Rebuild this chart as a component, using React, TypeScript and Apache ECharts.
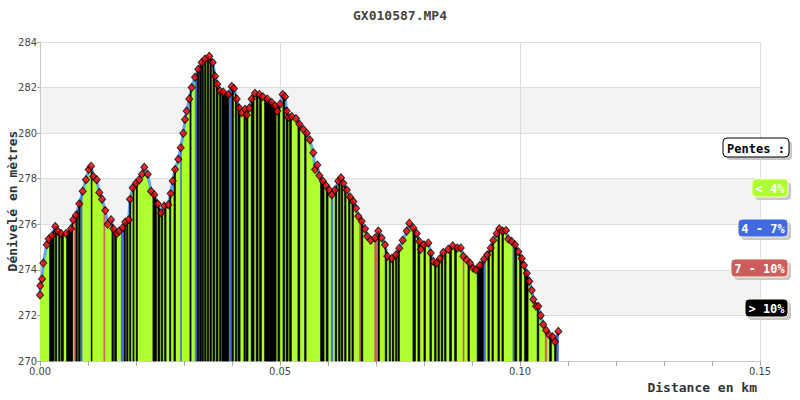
import React, { useEffect, useRef } from "react";
import * as echarts from "echarts";

// Distance (km) and elevation (m) of the track profile
const distances = [
  0, 0.00006, 0.00042, 0.00069, 0.0014, 0.00181, 0.0025, 0.00319, 0.00369, 0.00438,
  0.00542, 0.00646, 0.00694, 0.0075, 0.00819, 0.0089, 0.00958, 0.01015, 0.01063, 0.0111,
  0.01181, 0.01235, 0.01292, 0.0136, 0.0141, 0.01479, 0.01527, 0.01598, 0.01652, 0.01723,
  0.01777, 0.01848, 0.01875, 0.01931, 0.02, 0.02069, 0.02125, 0.02173, 0.02244, 0.02313,
  0.02381, 0.02452, 0.02521, 0.0259, 0.02673, 0.02723, 0.02765, 0.02813, 0.02881, 0.02931,
  0.02985, 0.03021, 0.03056, 0.0311, 0.0316, 0.03229, 0.03298, 0.03369, 0.03438, 0.03527,
  0.03598, 0.03646, 0.03694, 0.0375, 0.03819, 0.03923, 0.03994, 0.04042, 0.04098, 0.04152,
  0.04202, 0.04271, 0.04306, 0.0436, 0.0441, 0.04479, 0.04569, 0.0464, 0.04735, 0.04827,
  0.04896, 0.04944, 0.05, 0.05056, 0.05104, 0.0514, 0.05173, 0.05244, 0.05333, 0.05402,
  0.05485, 0.05556, 0.05625, 0.05694, 0.05729, 0.05777, 0.05819, 0.0589, 0.05958, 0.06027,
  0.06077, 0.06146, 0.06215, 0.06271, 0.06319, 0.0639, 0.06458, 0.06527, 0.06583, 0.06631,
  0.06702, 0.06771, 0.06819, 0.0689, 0.06979, 0.07048, 0.07119, 0.07188, 0.07235, 0.07327,
  0.07417, 0.07485, 0.07556, 0.0764, 0.07694, 0.07777, 0.07848, 0.07902, 0.07931, 0.08,
  0.0809, 0.0814, 0.08194, 0.08265, 0.08333, 0.08402, 0.08506, 0.08598, 0.08694, 0.08765,
  0.08819, 0.0889, 0.08958, 0.09027, 0.09083, 0.09167, 0.0925, 0.09319, 0.0939, 0.09444,
  0.09515, 0.09569, 0.0964, 0.09708, 0.09756, 0.09827, 0.09896, 0.09965, 0.10035, 0.10083,
  0.1014, 0.10194, 0.10244, 0.10277, 0.10333, 0.10381, 0.10431, 0.10485, 0.10542, 0.1061,
  0.10681, 0.10729, 0.10798,
];

const elevations = [
  272.9, 273.3, 273.6, 274.3, 275.1, 275.35, 275.5, 275.9, 275.7, 275.6,
  275.6, 275.8, 276.2, 276.4, 276.9, 277.45, 277.96, 278.4, 278.55, 278.1,
  277.96, 277.4, 277.1, 276.6, 276.0, 276.2, 275.8, 275.6, 275.7, 275.85,
  276.1, 276.2, 277.1, 277.6, 277.8, 277.96, 278.2, 278.5, 278.2, 277.45,
  277.3, 276.9, 276.5, 276.8, 276.86, 277.35, 277.9, 278.4, 278.85, 279.36,
  280.0, 280.6, 280.97, 281.5, 282.0, 282.45, 282.8, 283.1, 283.25, 283.37,
  283.1, 282.5, 282.15, 281.85, 281.8, 281.7, 282.05, 281.96, 281.5, 281.1,
  280.9, 281.05, 280.8, 281.1, 281.5, 281.75, 281.7, 281.6, 281.5, 281.35,
  281.2, 280.97, 281.27, 281.7, 281.6, 280.97, 280.7, 280.73, 280.64, 280.4,
  280.17, 280.0, 279.7, 279.14, 278.4, 278.6, 278.14, 277.9, 277.7, 277.5,
  277.3, 277.5, 277.9, 278.04, 277.8, 277.5, 277.2, 277.0, 276.7, 276.35,
  276.13, 275.8, 275.47, 275.3, 275.4, 275.7, 275.4, 275.1, 274.6, 274.5,
  274.66, 274.95, 275.3, 275.7, 276.05, 275.84, 275.6, 275.25, 274.9, 275.1,
  275.18, 274.74, 274.37, 274.3, 274.5, 274.76, 274.9, 275.06, 274.96, 274.96,
  274.6, 274.44, 274.3, 274.07, 274.0, 274.2, 274.47, 274.66, 274.96, 275.3,
  275.6, 275.8, 275.7, 275.73, 275.35, 275.25, 275.1, 274.8, 274.5, 274.2,
  273.85, 273.5, 273.1, 272.7, 272.4, 272.4, 272.0, 271.6, 271.35, 271.14,
  271.06, 270.84, 271.3,
];

// Slope bands: [start km, end km]
const slopeOver10 = [
  [0.00202, 0.00292], [0.00319, 0.00348], [0.0039, 0.00417], [0.00444, 0.00485], [0.00556, 0.00681],
  [0.0075, 0.00777], [0.00806, 0.00833], [0.01069, 0.01083], [0.015, 0.01527], [0.01556, 0.0159],
  [0.0175, 0.01777], [0.01806, 0.01833], [0.01869, 0.0189], [0.01938, 0.01958], [0.02006, 0.02027],
  [0.02354, 0.02423], [0.02458, 0.02494], [0.02527, 0.02556], [0.02598, 0.02625], [0.02702, 0.02723],
  [0.02792, 0.02819], [0.03125, 0.03146], [0.03277, 0.03306], [0.03327, 0.0336], [0.03375, 0.03402],
  [0.03431, 0.03458], [0.03485, 0.03515], [0.03542, 0.03569], [0.03604, 0.0364], [0.03673, 0.03708],
  [0.03744, 0.03771], [0.03792, 0.03931], [0.04, 0.04027], [0.04069, 0.04098], [0.04125, 0.04167],
  [0.0425, 0.04277], [0.04298, 0.04333], [0.04402, 0.04458], [0.04506, 0.04542], [0.04577, 0.0461],
  [0.04681, 0.04917], [0.04958, 0.04994], [0.05063, 0.05098], [0.05131, 0.05167], [0.05202, 0.05235],
  [0.05375, 0.0541], [0.05515, 0.05542], [0.05848, 0.05917], [0.05965, 0.06], [0.06152, 0.06181],
  [0.06223, 0.0625], [0.06277, 0.06306], [0.06348, 0.06375], [0.06431, 0.06458], [0.065, 0.06527],
  [0.06694, 0.06723], [0.07042, 0.07069], [0.07194, 0.07223], [0.07277, 0.07298], [0.0734, 0.07369],
  [0.0741, 0.07431], [0.07458, 0.07485], [0.07771, 0.07819], [0.07875, 0.0791], [0.08, 0.08027],
  [0.08125, 0.08152], [0.08223, 0.0825], [0.08292, 0.08319], [0.0836, 0.0839], [0.08431, 0.08458],
  [0.08535, 0.08569], [0.0864, 0.08673], [0.08917, 0.08944], [0.0911, 0.09235], [0.09333, 0.0936],
  [0.09417, 0.09444], [0.09542, 0.09569], [0.09625, 0.09652], [0.0989, 0.09931], [0.09994, 0.10027],
  [0.10098, 0.10167], [0.1036, 0.1039], [0.10619, 0.10652], [0.10723, 0.1075],
];
const slope4to7 = [
  [0.00848, 0.00875], [0.01694, 0.01729], [0.02931, 0.02944], [0.03235, 0.03265], [0.03952, 0.03985],
  [0.06069, 0.06098], [0.0925, 0.09277], [0.09854, 0.09875], [0.10756, 0.10798],
];
const slope7to10 = [
  [0.00723, 0.00735], [0.01333, 0.01348], [0.0666, 0.06681], [0.06973, 0.07015], [0.08813, 0.08833],
  [0.10527, 0.10556],
];

const slopeColors = ["#adff2f", "#4169e1", "#cd5c5c", "#000000"];
const legendLabels = ["< 4%", "4 - 7%", "7 - 10%", "> 10%"];
const xTicks = [0, 0.05, 0.1, 0.15];
const yMin = 270;
const yMax = 284;

function elevAt(x: number): number {
  if (x <= distances[0]) return elevations[0];
  for (let i = 1; i < distances.length; i++) {
    if (x <= distances[i]) {
      const t = (x - distances[i - 1]) / (distances[i] - distances[i - 1]);
      return elevations[i - 1] + t * (elevations[i] - elevations[i - 1]);
    }
  }
  return elevations[elevations.length - 1];
}

const MONO = "'DejaVu Sans Mono', monospace";
const COND = "'DejaVu Sans Condensed', 'DejaVu Sans', sans-serif";

export default function App() {
  const ref = useRef<HTMLDivElement>(null);
  useEffect(() => {
    document.body.style.margin = "0";
    if (!ref.current) return;
    const chart = echarts.init(ref.current, null, { renderer: "svg" });
    const profile = distances.map((d, i) => [d, elevations[i]]);
    const stripes: any[] = [];
    slope4to7.forEach((s) => stripes.push([s[0], s[1], 1]));
    slope7to10.forEach((s) => stripes.push([s[0], s[1], 2]));
    slopeOver10.forEach((s) => stripes.push([s[0], s[1], 3]));

    const legendBoxes = [
      { label: "Pentes :", x: 723, y: 138, w: 66, h: 19, fill: "#ffffff", stroke: "#000000", text: "#000000" },
      { label: legendLabels[0], x: 752, y: 179, w: 36, h: 18, fill: slopeColors[0], stroke: "#fff8dc", text: "#ffffff" },
      { label: legendLabels[1], x: 738, y: 219, w: 50, h: 18, fill: slopeColors[1], stroke: "#fff8dc", text: "#ffffff" },
      { label: legendLabels[2], x: 731, y: 259, w: 57, h: 18, fill: slopeColors[2], stroke: "#fff8dc", text: "#ffffff" },
      { label: legendLabels[3], x: 745, y: 299, w: 43, h: 18, fill: slopeColors[3], stroke: "#fff8dc", text: "#ffffff" },
    ];
    const graphics: any[] = [];
    legendBoxes.forEach((b) => {
      graphics.push({
        type: "rect",
        shape: { x: b.x + 3, y: b.y + 3, width: b.w, height: b.h, r: 4 },
        style: { fill: "#c8c8c8" },
        z: 100,
      });
      graphics.push({
        type: "rect",
        shape: { x: b.x, y: b.y, width: b.w, height: b.h, r: 4 },
        style: { fill: b.fill, stroke: b.stroke, lineWidth: 1 },
        z: 101,
      });
      graphics.push({
        type: "text",
        x: b.x + b.w / 2,
        y: b.y + b.h / 2 + 1,
        style: {
          text: b.label,
          fill: b.text,
          font: `bold 12px ${MONO}`,
          textAlign: "center",
          textVerticalAlign: "middle",
        },
        z: 102,
      });
    });
    graphics.push({
      type: "text",
      right: 43,
      top: 381,
      style: { text: "Distance en km", fill: "#333", font: `bold 13px ${MONO}` },
    });
    graphics.push({
      type: "text",
      x: 12,
      y: 201,
      rotation: Math.PI / 2,
      style: {
        text: "Dénivelé en mètres",
        fill: "#333",
        font: `bold 13px ${MONO}`,
        textAlign: "center",
        textVerticalAlign: "middle",
      },
    });

    chart.setOption({
      animation: false,
      title: {
        text: "GX010587.MP4",
        left: "center",
        top: 4,
        textStyle: { fontFamily: MONO, fontSize: 13, fontWeight: "bold", color: "#444" },
      },
      grid: { left: 40, right: 40, top: 42, bottom: 39, containLabel: false, outerBoundsMode: "none" },
      xAxis: {
        type: "value",
        min: xTicks[0],
        max: xTicks[xTicks.length - 1],
        interval: 0.05,
        axisLine: { lineStyle: { color: "#c8c8c8" } },
        axisTick: { show: true, length: 5, lineStyle: { color: "#aaa" } },
        minorTick: { show: true, splitNumber: 5, length: 5, lineStyle: { color: "#aaa" } },
        splitLine: { show: true, lineStyle: { color: "#dddddd" } },
        axisLabel: {
          formatter: (v: number) => v.toFixed(2),
          color: "#444",
          fontFamily: COND,
          fontSize: 11,
          margin: 5,
        },
      },
      yAxis: {
        type: "value",
        min: yMin,
        max: yMax,
        interval: 2,
        axisLine: { show: true, lineStyle: { color: "#c8c8c8" } },
        axisTick: { show: true, length: 3, lineStyle: { color: "#aaa" } },
        splitLine: { show: true, lineStyle: { color: "#dddddd" } },
        splitArea: { show: true, areaStyle: { color: ["#ffffff", "#f3f3f3"] } },
        axisLabel: {
          color: "#444",
          fontFamily: COND,
          fontSize: 11,
          margin: 3,
        },
      },
      series: [
        {
          type: "line",
          data: profile,
          showSymbol: false,
          lineStyle: { color: "#62a8ee", width: 3 },
          areaStyle: { color: slopeColors[0], opacity: 1 },
          z: 2,
        },
        {
          type: "custom",
          data: stripes,
          encode: { x: [0, 1] },
          z: 3,
          renderItem: (params: any, api: any) => {
            const x0 = api.value(0);
            const x1 = api.value(1);
            const cls = api.value(2);
            const pts: number[][] = [api.coord([x0, yMin]), api.coord([x0, elevAt(x0)])];
            for (let i = 0; i < distances.length; i++) {
              if (distances[i] > x0 && distances[i] < x1) pts.push(api.coord([distances[i], elevations[i]]));
            }
            pts.push(api.coord([x1, elevAt(x1)]));
            pts.push(api.coord([x1, yMin]));
            return {
              type: "polygon",
              shape: { points: pts },
              style: { fill: slopeColors[cls], stroke: slopeColors[cls], lineWidth: 0.8 },
            };
          },
        },
        {
          type: "scatter",
          data: profile,
          symbol: "diamond",
          symbolSize: [7, 8],
          itemStyle: { color: "#ff0000", borderColor: "#000000", borderWidth: 1 },
          z: 4,
        },
      ],
      graphic: graphics,
    });
    return () => chart.dispose();
  }, []);
  return <div ref={ref} style={{ width: 800, height: 400 }} />;
}
